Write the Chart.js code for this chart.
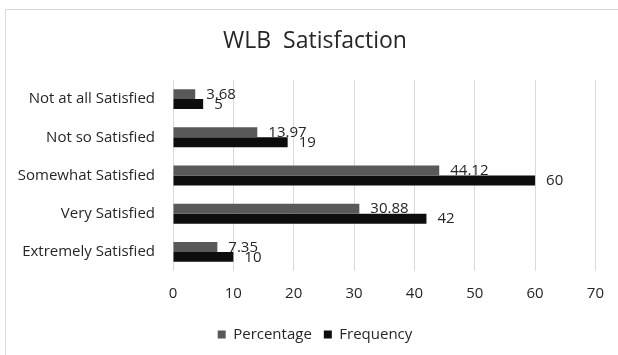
<!DOCTYPE html>
<html>
<head>
<meta charset="utf-8">
<script src="https://cdn.jsdelivr.net/npm/chart.js@4/dist/chart.umd.min.js"></script>
<style>
  html, body { margin: 0; padding: 0; width: 618px; height: 355px; overflow: hidden; background: #ffffff; }
  #frame { position: absolute; left: 5px; top: 9px; width: 700px; height: 400px; border: 1px solid #d9d9d9; box-sizing: border-box; }
  #wrap { position: absolute; left: 0; top: 0; width: 618px; height: 355px; }
</style>
</head>
<body>
<div id="frame"></div>
<div id="wrap"><canvas id="chart" width="618" height="355"></canvas></div>
<script>
// Work-life balance satisfaction survey results
const categories = ['Not at all Satisfied', 'Not so Satisfied', 'Somewhat Satisfied', 'Very Satisfied', 'Extremely Satisfied'];
const percentage = [3.68, 13.97, 44.12, 30.88, 7.35];
const frequency = [5, 19, 60, 42, 10];
const xTicks = [0, 10, 20, 30, 40, 50, 60, 70];

const FONT = "'Open Sans', 'DejaVu Sans', sans-serif";
const TEXT = '#262626';

// Writes each bar's value just past its end
const valueLabels = {
  id: 'valueLabels',
  afterDatasetsDraw(chart) {
    const ctx = chart.ctx;
    ctx.save();
    ctx.font = '15px ' + FONT;
    ctx.fillStyle = TEXT;
    ctx.textAlign = 'left';
    ctx.textBaseline = 'middle';
    chart.data.datasets.forEach((ds, i) => {
      const meta = chart.getDatasetMeta(i);
      meta.data.forEach((bar, j) => {
        ctx.fillText(String(ds.data[j]), bar.x + 11, bar.y + 0.5);
      });
    });
    ctx.restore();
  }
};

// Long category names reach past the left padding; let the axis draw them in full
const wideCategoryLabels = {
  id: 'wideCategoryLabels',
  afterLayout(chart) { chart.scales.y.left = 0; }
};

new Chart(document.getElementById('chart'), {
  type: 'bar',
  data: {
    labels: categories,
    datasets: [
      { label: 'Percentage', data: percentage, backgroundColor: '#595959' },
      { label: 'Frequency', data: frequency, backgroundColor: '#0d0d0d' }
    ]
  },
  options: {
    indexAxis: 'y',
    responsive: false,
    animation: false,
    categoryPercentage: 0.52,
    barPercentage: 1.0,
    layout: { padding: { left: 34, right: 22, top: 0, bottom: 3 } },
    plugins: {
      title: {
        display: true,
        text: 'WLB  Satisfaction',
        color: TEXT,
        font: { family: FONT, size: 23, weight: 'normal' },
        padding: { top: 28, bottom: 24.4 }
      },
      legend: {
        position: 'bottom',
        labels: {
          color: TEXT,
          font: { family: FONT, size: 15 },
          boxWidth: 8,
          boxHeight: 8,
          padding: 12
        }
      },
      tooltip: { enabled: false }
    },
    scales: {
      x: {
        min: 0,
        max: 70,
        afterBuildTicks(scale) { scale.ticks = xTicks.map(v => ({ value: v })); },
        afterFit(scale) { scale.height -= 2; },
        grid: { color: '#d9d9d9', drawTicks: false },
        border: { display: false },
        ticks: { color: TEXT, font: { family: FONT, size: 15 }, padding: 14 }
      },
      y: {
        grid: { display: false },
        border: { display: false },
        ticks: { color: TEXT, font: { family: FONT, size: 15 }, padding: 10 },
        afterFit(scale) { scale.width = 139; }
      }
    }
  },
  plugins: [valueLabels, wideCategoryLabels]
});
</script>
</body>
</html>
